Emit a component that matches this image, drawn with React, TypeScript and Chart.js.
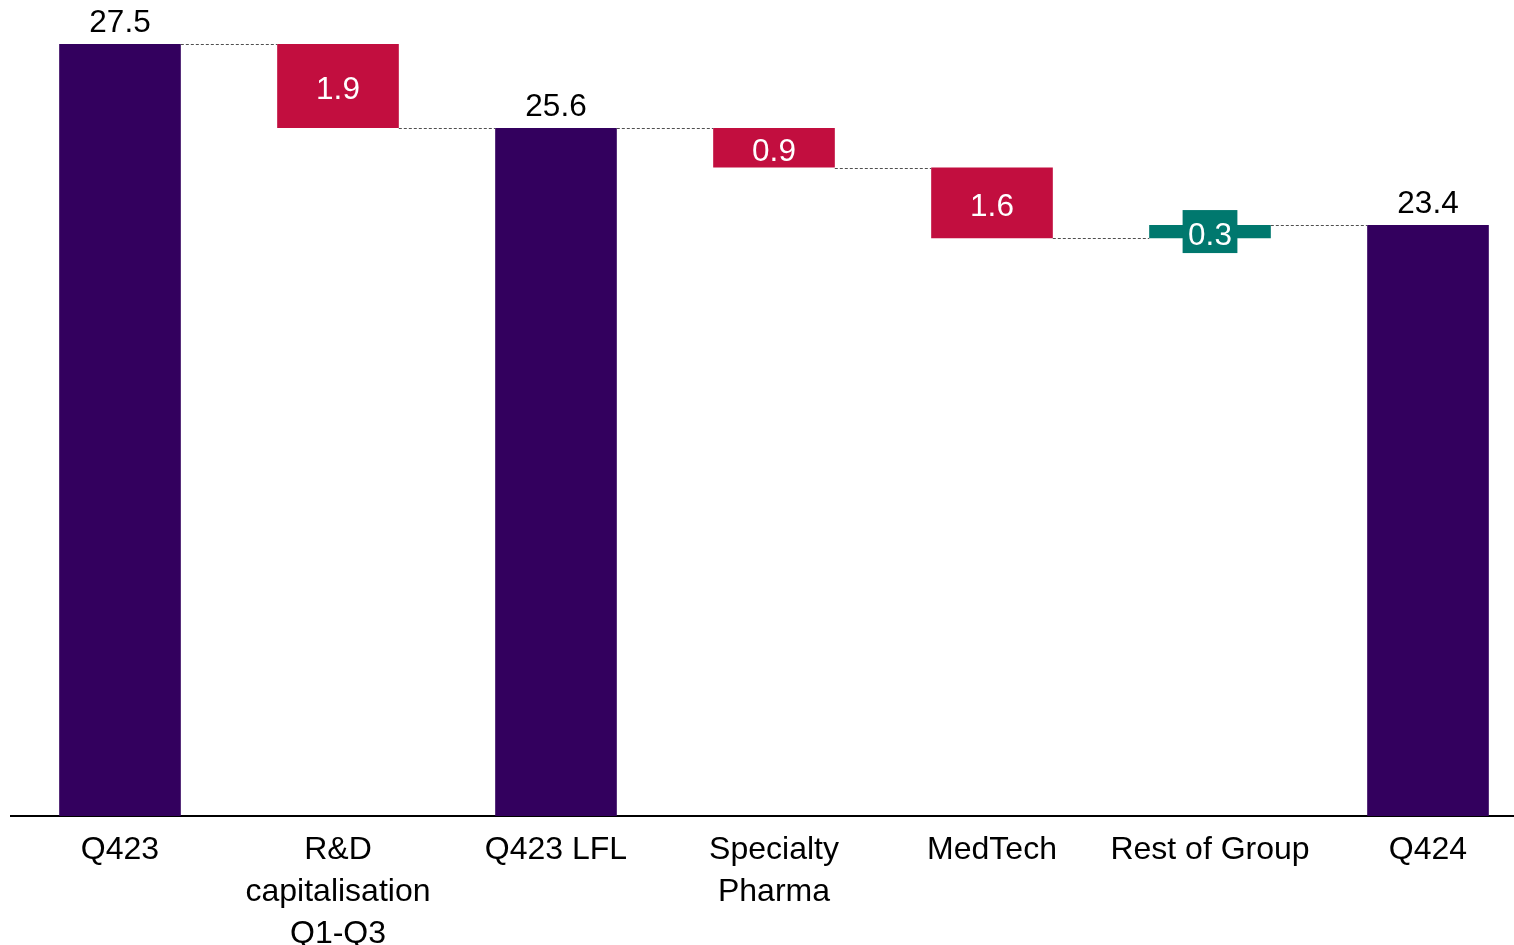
import React, { useEffect, useRef } from "react";
import { Chart, registerables } from "chart.js";

Chart.register(...registerables);

const categories: (string | string[])[] = [
  "Q423",
  ["R&D", "capitalisation", "Q1-Q3"],
  "Q423 LFL",
  ["Specialty", "Pharma"],
  "MedTech",
  "Rest of Group",
  "Q424",
];
const stepValues = [27.5, -1.9, 25.6, -0.9, -1.6, 0.3, 23.4];
const isTotal = [true, false, true, false, false, false, true];
const valueLabels = ["27.5", "1.9", "25.6", "0.9", "1.6", "0.3", "23.4"];

const yMin = 10;
const yMax = 28.5;

const TOTAL_COLOR = "#33005E";
const NEG_COLOR = "#C20E3F";
const POS_COLOR = "#00786E";
const FONT = "'Liberation Sans', Arial, Helvetica, sans-serif";

function buildRanges() {
  const ranges: [number, number][] = [];
  const ends: number[] = [];
  let level = 0;
  stepValues.forEach((v, i) => {
    if (isTotal[i]) {
      ranges.push([0, v]);
      level = v;
    } else {
      const next = level + v;
      ranges.push([Math.min(level, next), Math.max(level, next)]);
      level = next;
    }
    ends.push(level);
  });
  return { ranges, ends };
}

export default function App() {
  const ref = useRef<HTMLCanvasElement | null>(null);

  useEffect(() => {
    if (!ref.current) return;
    const { ranges, ends } = buildRanges();
    const colors = stepValues.map((v, i) =>
      isTotal[i] ? TOTAL_COLOR : v < 0 ? NEG_COLOR : POS_COLOR
    );

    const waterfallPlugin = {
      id: "waterfallDecor",
      afterDatasetsDraw(chart: any) {
        const ctx = chart.ctx as CanvasRenderingContext2D;
        const meta = chart.getDatasetMeta(0);
        const ys = chart.scales.y;
        const bars = meta.data;
        ctx.save();
        // connectors
        ctx.strokeStyle = "#505050";
        ctx.lineWidth = 1;
        ctx.setLineDash([3, 2]);
        for (let i = 0; i < bars.length - 1; i++) {
          const a = bars[i].getProps(["x", "width"], true);
          const b = bars[i + 1].getProps(["x", "width"], true);
          const py = Math.round(ys.getPixelForValue(ends[i])) + 0.5;
          ctx.beginPath();
          ctx.moveTo(a.x + a.width / 2, py);
          ctx.lineTo(b.x - b.width / 2, py);
          ctx.stroke();
        }
        ctx.setLineDash([]);
        // labels
        ctx.font = `31.5px ${FONT}`;
        ctx.textAlign = "center";
        ctx.textBaseline = "alphabetic";
        for (let i = 0; i < bars.length; i++) {
          const p = bars[i].getProps(["x", "y", "base", "width"], true);
          const top = Math.min(p.y, p.base);
          const bottom = Math.max(p.y, p.base);
          if (isTotal[i]) {
            ctx.fillStyle = "#000000";
            ctx.fillText(valueLabels[i], p.x, top - 12);
          } else {
            const center = (top + bottom) / 2;
            if (bottom - top < 34) {
              const tw = ctx.measureText(valueLabels[i]).width;
              const bw = tw + 11;
              const bh = 43;
              ctx.fillStyle = colors[i];
              ctx.fillRect(p.x - bw / 2, center - bh / 2, bw, bh);
            }
            ctx.fillStyle = "#FFFFFF";
            ctx.fillText(valueLabels[i], p.x, center + 13);
          }
        }
        ctx.restore();
      },
    };

    const chart = new Chart(ref.current, {
      type: "bar",
      data: {
        labels: categories,
        datasets: [
          {
            data: ranges as any,
            backgroundColor: colors,
            borderWidth: 0,
            barPercentage: 0.558,
            categoryPercentage: 1,
          },
        ],
      },
      options: {
        responsive: false,
        animation: false,
        layout: { padding: { left: 11, right: 0, top: 0, bottom: 0 } },
        plugins: {
          legend: { display: false },
          tooltip: { enabled: false },
          title: { display: false },
        },
        scales: {
          x: {
            grid: { display: false, drawTicks: false },
            border: { display: true, color: "#000000", width: 2 },
            ticks: {
              color: "#000000",
              padding: 13,
              maxRotation: 0,
              autoSkip: false,
              font: { family: FONT, size: 32, lineHeight: "42px" as any },
            },
            afterFit: (scale: any) => {
              scale.height = 129;
            },
          },
          y: {
            display: false,
            min: yMin,
            max: yMax,
          },
        },
      },
      plugins: [waterfallPlugin],
    });
    return () => chart.destroy();
  }, []);

  return (
    <div
      style={{
        position: "fixed",
        left: 0,
        top: 0,
        width: 1514,
        height: 945,
        overflow: "hidden",
        background: "#ffffff",
      }}
    >
      <canvas ref={ref} width={1537} height={945} style={{ display: "block" }} />
    </div>
  );
}
